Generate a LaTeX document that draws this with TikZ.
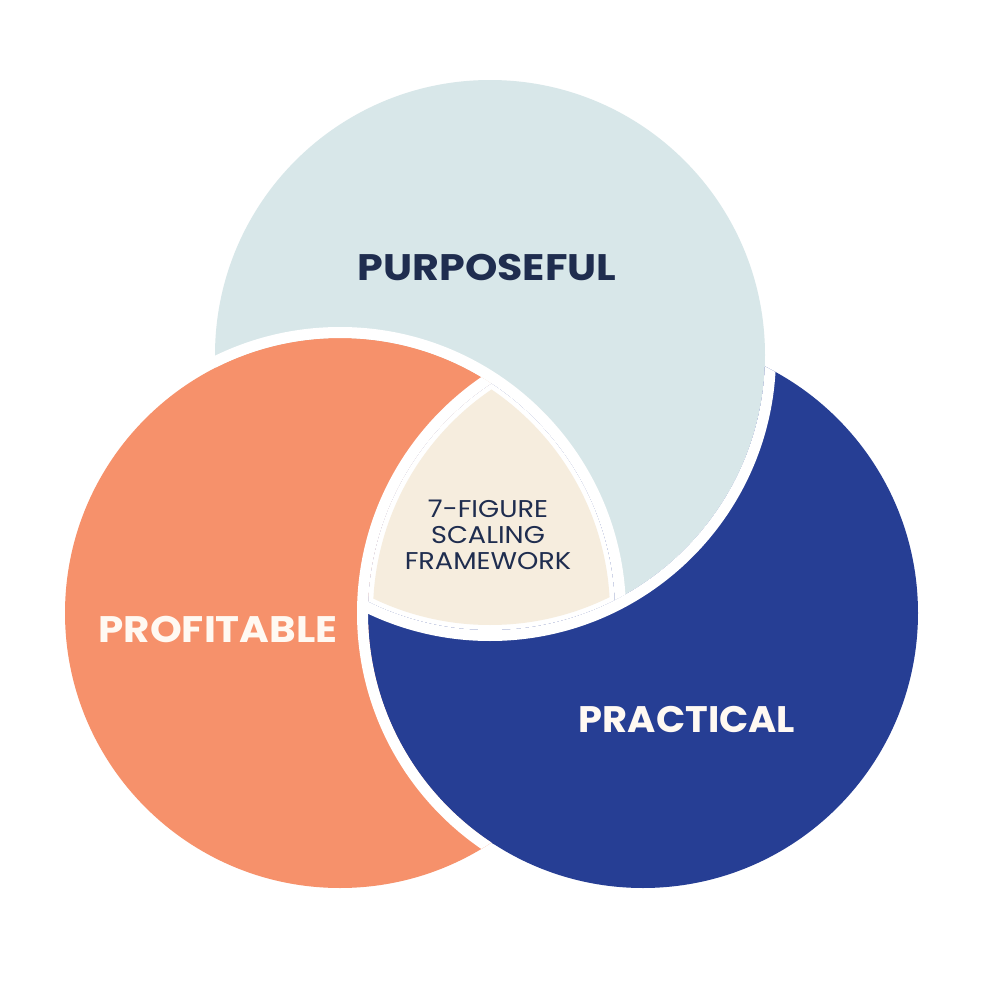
\documentclass[tikz,border=0pt]{standalone}
\usepackage{fontspec}
\setmainfont{Poppins}
\usetikzlibrary{positioning}
\definecolor{purcol}{HTML}{D8E7E9}
\definecolor{procol}{HTML}{F6916B}
\definecolor{pracol}{HTML}{263E94}
\definecolor{corecol}{HTML}{F6EDDE}
\definecolor{inkcol}{HTML}{1F2D4F}
\definecolor{paper}{HTML}{FFF9F2}
\def\rad{275}
\def\halo{286}
\def\inset{270}

\begin{document}
\begin{tikzpicture}[x=0.1mm,y=-0.1mm, bigword/.style={font=\bfseries\fontsize{10.5}{12}\selectfont,inner sep=0pt,anchor=base}, smallword/.style={font=\fontsize{6.9}{7.4}\selectfont,inner sep=0pt,align=center,text=inkcol,xscale=1.12}, gap/.style={fill=white,even odd rule}]

 \useasboundingbox[fill=white] (0,0) rectangle (1000,995);

 \coordinate (pur) at (490,355);
 \coordinate (pro) at (340,613);
 \coordinate (pra) at (643,613);

    % discs; profitable over purposeful over practical over profitable
    \fill[pracol] (pra) circle[radius=\rad];
    \fill[purcol] (pur) circle[radius=\rad];
    \fill[procol] (pro) circle[radius=\rad];
 \begin{scope}
    \clip (pro) circle[radius=\rad+3];
    \fill[pracol] (pra) circle[radius=\rad];
 \end{scope}
    % white gaps, each cut only into the lower disc
 \begin{scope}
    \clip (pur) circle[radius=\rad];
    \fill[gap] (pro) circle[radius=\halo] (pro) circle[radius=\rad];
 \end{scope}
 \begin{scope}
    \clip (pra) circle[radius=\rad];
    \fill[gap] (pur) circle[radius=\halo] (pur) circle[radius=\rad];
 \end{scope}
 \begin{scope}
    \clip (pro) circle[radius=\rad];
    \fill[gap] (pra) circle[radius=\halo] (pra) circle[radius=\rad];
 \end{scope}
    % common core
 \begin{scope}
    \clip (pro) circle[radius=\rad];
    \clip (pra) circle[radius=\rad];
    \fill[white] (pur) circle[radius=\rad];
    \clip (pro) circle[radius=\inset];
    \clip (pra) circle[radius=\inset];
    \fill[corecol] (pur) circle[radius=\inset];
 \end{scope}

	\node[bigword, text=inkcol, xscale=1.117] (purposeful) at (487,281) {PURPOSEFUL};
	\node[bigword, text=paper, xscale=1.096] (profitable) at (218,642) {PROFITABLE};
	\node[bigword, text=paper, xscale=1.04] (practical) at (687,732) {PRACTICAL};
	\node[smallword] (core) at (488,535) {7-FIGURE\\SCALING\\FRAMEWORK};
\end{tikzpicture}
\end{document}
